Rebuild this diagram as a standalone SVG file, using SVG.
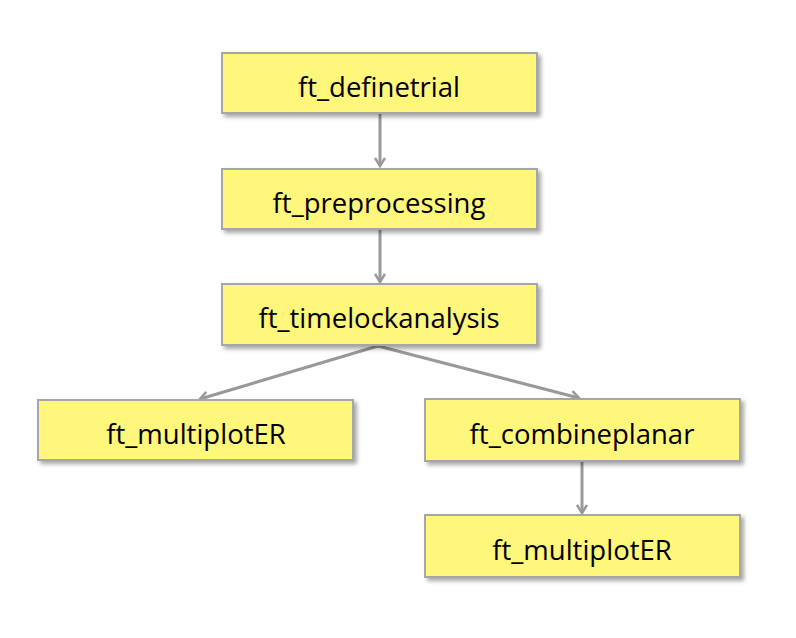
<svg xmlns="http://www.w3.org/2000/svg" width="796" height="638" viewBox="0 0 796 638">
<defs>
<filter id="sh" x="-5%" y="-10%" width="115%" height="130%">
<feGaussianBlur in="SourceAlpha" stdDeviation="2"/>
<feOffset dx="3" dy="3" result="b"/>
<feComponentTransfer><feFuncA type="linear" slope="0.35"/></feComponentTransfer>
<feMerge><feMergeNode/><feMergeNode in="SourceGraphic"/></feMerge>
</filter>
<marker id="ah" markerWidth="12" markerHeight="12" viewBox="0 0 12 12" refX="10" refY="6" orient="auto" markerUnits="userSpaceOnUse">
<path d="M2,1 L10,6 L2,11" fill="none" stroke="#999999" stroke-width="2.5"/>
</marker>
</defs>
<style>
.box{fill:#FFF67C;stroke:#A6A6A6;stroke-width:2;filter:url(#sh)}
.lbl{font-family:"Open Sans","Liberation Sans",sans-serif;font-size:27.5px;fill:#000;text-anchor:middle}
.con{stroke:#999999;stroke-width:3;fill:none;marker-end:url(#ah)}
</style>
<rect width="796" height="638" fill="#fff"/>
<g id="connectors">
<line class="con" x1="380" y1="114" x2="380" y2="166"/>
<line class="con" x1="380" y1="230" x2="380" y2="282"/>
<line class="con" x1="378" y1="346" x2="200" y2="399"/>
<line class="con" x1="378" y1="346" x2="579" y2="398"/>
<line class="con" x1="582" y1="462" x2="582" y2="513"/>
</g>
<g id="n1"><rect class="box" x="222" y="53" width="315" height="60"/><text class="lbl" x="379" y="97">ft_definetrial</text></g>
<g id="n2"><rect class="box" x="222" y="169" width="315" height="60"/><text class="lbl" x="379" y="213">ft_preprocessing</text></g>
<g id="n3"><rect class="box" x="222" y="284" width="315" height="61"/><text class="lbl" x="379" y="328">ft_timelockanalysis</text></g>
<g id="n4"><rect class="box" x="38" y="400" width="315" height="60"/><text class="lbl" x="196" y="444">ft_multiplotER</text></g>
<g id="n5"><rect class="box" x="425" y="399" width="315" height="62"/><text class="lbl" x="582" y="444">ft_combineplanar</text></g>
<g id="n6"><rect class="box" x="425" y="515" width="315" height="62"/><text class="lbl" x="582" y="560">ft_multiplotER</text></g>
</svg>
